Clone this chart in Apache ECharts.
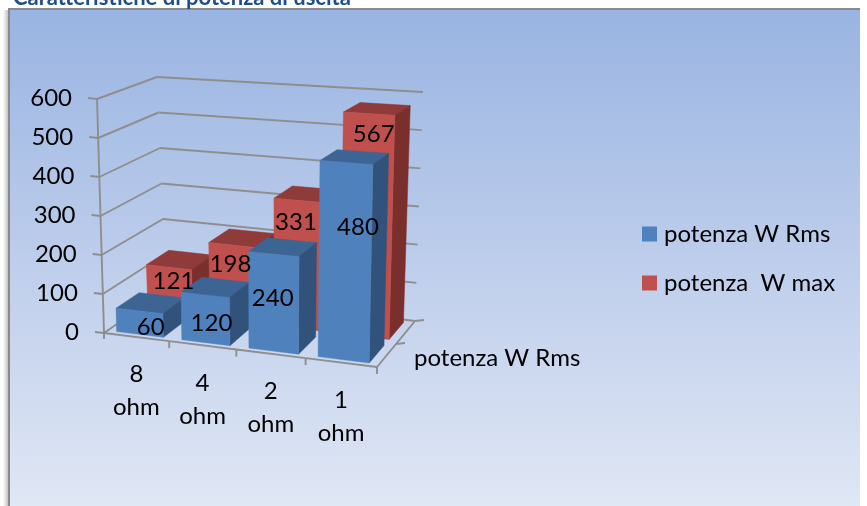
<!DOCTYPE html>
<html>
<head>
<meta charset="utf-8">
<style>html,body{margin:0;padding:0;background:#fff;}#chart{width:867px;height:506px;}</style>
<script src="https://cdn.jsdelivr.net/npm/echarts@6/dist/echarts.min.js"></script>
</head>
<body>
<div id="chart"></div>
<script>
// Output power characteristics, drawn as a 3D column chart
const categories = ['8\nohm', '4\nohm', '2\nohm', '1\nohm'];
const valueTicks = [0, 100, 200, 300, 400, 500, 600];
const rmsName = 'potenza W Rms';
const maxName = 'potenza  W max';
const rmsValues = [60, 120, 240, 480];
const maxValues = [121, 198, 331, 567];

const FONT = 'Lato';

// Corners of the plot box on screen: F/B front/back, L/R left/right, floor 0 and ceiling 1
const box = {
  FL0: [104, 333], FL1: [97, 99],
  FR0: [377, 367], FR1: [382, 117],
  BL0: [166, 290], BL1: [157, 77],
  BR0: [415, 321], BR1: [423, 92]
};
const mix = (a, b, t) => [a[0] + (b[0] - a[0]) * t, a[1] + (b[1] - a[1]) * t];

// Foreshortening along the category direction
const warp = (u) => u / (1 + 0.062 * (1 - u));

function project(u, v, w) {
  const s = warp(u);
  const bottom = mix(mix(box.FL0, box.FR0, s), mix(box.BL0, box.BR0, s), w);
  const top = mix(mix(box.FL1, box.FR1, s), mix(box.BL1, box.BR1, s), w);
  return mix(bottom, top, v);
}

// Scene position of a data point, read through the hidden cartesian axes
function scene(api, cs, index, frac, value) {
  const p = api.coord([index, value]);
  const band = api.size([1, 0])[0];
  return {
    u: (p[0] - cs.x + band * frac) / cs.width,
    v: (cs.y + cs.height - p[1]) / cs.height
  };
}

const BAR_HALF = 0.36;
const RMS_DEPTH = [0.06, 0.44];
const MAX_DEPTH = [0.57, 0.94];

function poly(points, fill) {
  return { type: 'polygon', shape: { points }, style: { fill, stroke: fill, lineWidth: 0.5 } };
}

function barRenderer(depth, colors) {
  return function (params, api) {
    const cs = params.coordSys;
    const i = api.value(0);
    const a = scene(api, cs, i, -BAR_HALF, 0);
    const b = scene(api, cs, i, BAR_HALF, api.value(1));
    const P = (u, v, w) => project(u, v, w);
    const [w0, w1] = depth;
    return {
      type: 'group',
      children: [
        poly([P(a.u, b.v, w0), P(b.u, b.v, w0), P(b.u, b.v, w1), P(a.u, b.v, w1)], colors.top),
        poly([P(b.u, a.v, w0), P(b.u, a.v, w1), P(b.u, b.v, w1), P(b.u, b.v, w0)], colors.side),
        poly([P(a.u, a.v, w0), P(b.u, a.v, w0), P(b.u, b.v, w0), P(a.u, b.v, w0)], colors.front)
      ]
    };
  };
}

const GRID_COLOR = '#8e8e8e';
const line = (a, b, width) => ({
  type: 'line',
  shape: { x1: a[0], y1: a[1], x2: b[0], y2: b[1] },
  style: { stroke: GRID_COLOR, lineWidth: width || 1.9 }
});
const textEl = (pos, text, align, verticalAlign, extra) => ({
  type: 'text',
  style: Object.assign({
    x: pos[0], y: pos[1], text, align, verticalAlign,
    fill: '#000', font: '24px ' + FONT
  }, extra || {})
});

// Wall gridlines, value ticks and value labels
function renderGrid(params, api) {
  const cs = params.coordSys;
  const value = api.value(0);
  const v = scene(api, cs, 0, 0, value).v;
  const fl = project(0, v, 0), bl = project(0, v, 1), br = project(1, v, 1);
  return {
    type: 'group',
    children: [
      line(fl, bl),
      line(bl, br),
      line([fl[0] - 9, fl[1] - 1], fl),
      textEl([fl[0] - 25, fl[1] - 1], String(value), 'right', 'middle')
    ]
  };
}

// Floor edges, axis lines and category labels
function renderFloor(params, api) {
  const cs = params.coordSys;
  const i = api.value(0);
  const c = scene(api, cs, i, 0, 0);
  const left = scene(api, cs, i, -0.5, 0);
  const right = scene(api, cs, i, 0.5, 0);
  const a = project(left.u, 0, 0), b = project(right.u, 0, 0);
  const mid = project(c.u, 0, 0);
  const children = [
    line(a, b),
    line(b, [b[0], b[1] + 7]),
    textEl([mid[0], mid[1] + 54], categories[i], 'center', 'middle', { lineHeight: 33 })
  ];
  if (i === 0) {
    const top = project(0, 1, 0), far = project(1, 0, 1);
    const edgeMid = project(1, 0, 0.5), near = project(1, 0, 0);
    children.push(
      line(a, top),
      line(a, [a[0], a[1] + 6]),
      line(near, far),
      line(far, [far[0] + 9, far[1] - 1]),
      line(edgeMid, [edgeMid[0] + 9, edgeMid[1] - 1]),
      textEl([414, 358], rmsName, 'left', 'middle')
    );
  }
  return { type: 'group', children };
}

// Pixel nudges that place each value label on its column
const rmsNudge = [[11, 5], [6, 4], [-1, -4], [13, -34]];
const maxNudge = [[4, -8], [-2, -18], [-2, -42], [7, -91]];

function labelRenderer(depth, nudge) {
  return function (params, api) {
    const cs = params.coordSys;
    const i = api.value(0);
    const a = scene(api, cs, i, 0, api.value(1) / 2);
    const p = project(a.u, a.v, depth[0]);
    return textEl([p[0] + nudge[i][0], p[1] + nudge[i][1]], String(api.value(1)), 'center', 'middle');
  };
}

const rmsColors = { front: '#4f81bd', top: '#3c6594', side: '#31527b' };
const maxColors = { front: '#c0504d', top: '#8f3b39', side: '#7b2f2d' };
const indexed = (arr) => arr.map((v, i) => [i, v]);

const chart = echarts.init(document.getElementById('chart'), null, { renderer: 'canvas' });
chart.setOption({
  animation: false,
  title: {
    text: 'Caratteristiche di potenza di uscita',
    left: 8, top: -18,
    textStyle: { fontFamily: FONT, fontSize: 22, fontWeight: 'bold', color: '#1f4e8c' }
  },
  graphic: [
    // Soft shadow along the left side of the panel
    {
      type: 'rect', z: -11, silent: true,
      shape: { x: 3, y: 10, width: 6, height: 496 },
      style: {
        fill: new echarts.graphic.LinearGradient(0, 0, 1, 0, [
          { offset: 0, color: 'rgba(120,120,120,0)' },
          { offset: 1, color: 'rgba(120,120,120,0.55)' }
        ])
      }
    },
    {
      type: 'rect', z: -10, silent: true,
      shape: { x: 9, y: 9, width: 851, height: 497 },
      style: {
        fill: new echarts.graphic.LinearGradient(0, 0, 0, 1, [
          { offset: 0, color: '#99b4e2' },
          { offset: 0.5, color: '#bdcdeb' },
          { offset: 1, color: '#e0e7f5' }
        ])
      }
    },
    { type: 'rect', z: -9, silent: true, shape: { x: 8, y: 8, width: 852, height: 2 }, style: { fill: '#8a8a8a' } },
    { type: 'rect', z: -9, silent: true, shape: { x: 8, y: 8, width: 2, height: 498 }, style: { fill: '#8a8a8a' } }
  ],
  legend: {
    data: [rmsName, maxName],
    orient: 'vertical',
    left: 637, top: 217,
    itemWidth: 15, itemHeight: 15, itemGap: 25,
    icon: 'rect',
    selectedMode: false,
    textStyle: { fontFamily: FONT, fontSize: 24, color: '#000', padding: [0, 0, 0, 2] }
  },
  grid: { left: 100, right: 100, top: 50, bottom: 50 },
  xAxis: { type: 'category', data: categories, show: false },
  yAxis: { type: 'value', min: 0, max: 600, interval: 100, show: false },
  series: [
    {
      type: 'custom', name: 'griglia', coordinateSystem: 'cartesian2d', silent: true,
      data: valueTicks.map((v) => [v]), encode: { x: -1, y: 0 }, renderItem: renderGrid
    },
    {
      type: 'custom', name: 'base', coordinateSystem: 'cartesian2d', silent: true,
      data: categories.map((c, i) => [i]), encode: { x: 0, y: -1 }, renderItem: renderFloor
    },
    {
      type: 'custom', name: maxName, coordinateSystem: 'cartesian2d', silent: true,
      itemStyle: { color: maxColors.front },
      data: indexed(maxValues), encode: { x: 0, y: 1 },
      renderItem: barRenderer(MAX_DEPTH, maxColors)
    },
    {
      type: 'custom', name: rmsName, coordinateSystem: 'cartesian2d', silent: true,
      itemStyle: { color: rmsColors.front },
      data: indexed(rmsValues), encode: { x: 0, y: 1 },
      renderItem: barRenderer(RMS_DEPTH, rmsColors)
    },
    {
      type: 'custom', name: 'etichette max', coordinateSystem: 'cartesian2d', silent: true, z: 5,
      data: indexed(maxValues), encode: { x: 0, y: 1 },
      renderItem: labelRenderer(MAX_DEPTH, maxNudge)
    },
    {
      type: 'custom', name: 'etichette rms', coordinateSystem: 'cartesian2d', silent: true, z: 5,
      data: indexed(rmsValues), encode: { x: 0, y: 1 },
      renderItem: labelRenderer(RMS_DEPTH, rmsNudge)
    }
  ]
});
</script>
</body>
</html>
